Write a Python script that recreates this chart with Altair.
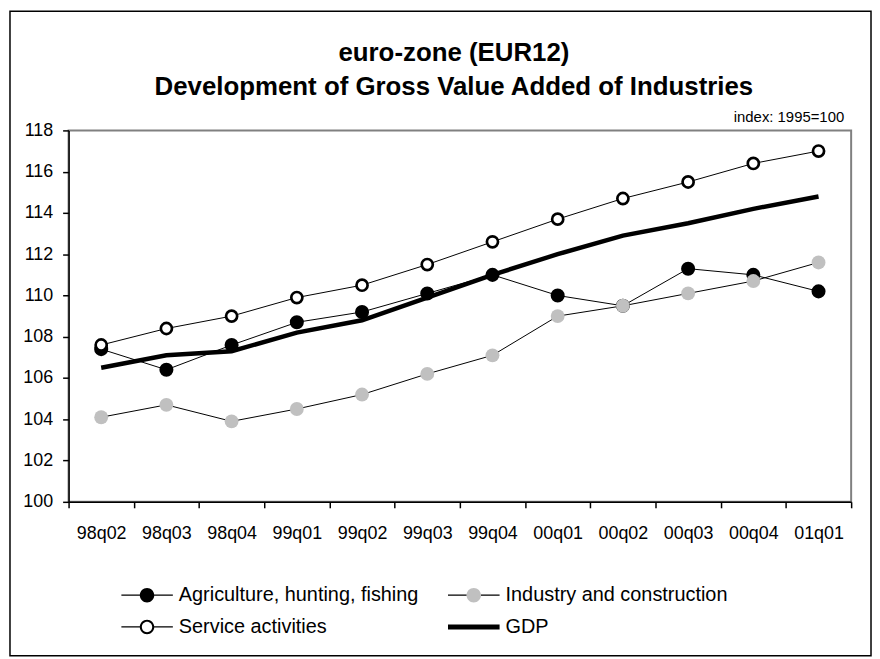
import altair as alt
import pandas as pd

FONT = "Liberation Sans, Arial, Helvetica, sans-serif"

quarters = ["98q02", "98q03", "98q04", "99q01", "99q02", "99q03",
            "99q04", "00q01", "00q02", "00q03", "00q04", "01q01"]
agriculture = [107.4, 106.4, 107.6, 108.7, 109.2, 110.1, 111.0, 110.0, 109.5, 111.3, 111.0, 110.2]
industry = [104.1, 104.7, 103.9, 104.5, 105.2, 106.2, 107.1, 109.0, 109.5, 110.1, 110.7, 111.6]
services = [107.6, 108.4, 109.0, 109.9, 110.5, 111.5, 112.6, 113.7, 114.7, 115.5, 116.4, 117.0]
gdp = [106.5, 107.1, 107.3, 108.2, 108.8, 109.9, 111.0, 112.0, 112.9, 113.5, 114.2, 114.8]
series_names = ["Agriculture, hunting, fishing", "Industry and construction",
                "Service activities", "GDP"]
y_ticks = [100, 102, 104, 106, 108, 110, 112, 114, 116, 118]
title_line1 = "euro-zone (EUR12)"
title_line2 = "Development of Gross Value Added of Industries"
note_text = "index: 1995=100"

rows = []
for name, vals in zip(series_names, [agriculture, industry, services, gdp]):
    for q, v in zip(quarters, vals):
        rows.append({"quarter": q, "series": name, "value": v})
df = pd.DataFrame(rows)

x_enc = alt.X("quarter:N",
              scale=alt.Scale(type="band", domain=quarters, paddingInner=0, paddingOuter=0),
              axis=alt.Axis(title=None, labelAngle=0, tickBand="extent", labelFontSize=18,
                            labelFont=FONT, labelColor="black", labelPadding=17,
                            tickSize=6, tickColor="black", tickWidth=1.5,
                            domainColor="black", domainWidth=1.5, grid=False))
y_enc = alt.Y("value:Q",
              scale=alt.Scale(domain=[100, 118], nice=False, zero=False),
              axis=alt.Axis(title=None, values=y_ticks, labelFontSize=18, labelFont=FONT,
                            labelColor="black", labelPadding=10, tickSize=6,
                            tickColor="black", tickWidth=1.5, domainColor="black",
                            domainWidth=1.5, grid=False))

base = alt.Chart(df).encode(x=x_enc, y=y_enc)

thin_lines = base.mark_line(color="black", strokeWidth=1).encode(
    detail="series:N"
).transform_filter(alt.FieldOneOfPredicate(field="series", oneOf=series_names[:3]))

gdp_line = base.mark_line(color="black", strokeWidth=4.5).transform_filter(
    alt.datum.series == "GDP")

agri_pts = base.mark_point(shape="circle", filled=True, fill="black", stroke="black",
                           strokeWidth=0, size=200, opacity=1).transform_filter(
    alt.datum.series == series_names[0])
ind_pts = base.mark_point(shape="circle", filled=True, fill="#c0c0c0", stroke="#c0c0c0",
                          strokeWidth=0, size=195, opacity=1).transform_filter(
    alt.datum.series == series_names[1])
svc_pts = base.mark_point(shape="circle", filled=True, fill="white", stroke="black",
                          strokeWidth=2.7, size=125, opacity=1).transform_filter(
    alt.datum.series == series_names[2])

# legend symbol paths (unit square, scaled by sqrt(size)/2)
SEG = "M-1,-0.025L-0.24,-0.025L-0.24,0.025L-1,0.025Z M0.24,-0.025L1,-0.025L1,0.025L0.24,0.025Z"
SEG_I = "M-1,-0.025L-0.28,-0.025L-0.28,0.025L-1,0.025Z M0.28,-0.025L1,-0.025L1,0.025L0.28,0.025Z"
DISC = "M0.28,0A0.28,0.28 0 1,1 -0.28,0A0.28,0.28 0 1,1 0.28,0Z"
RING = DISC + " M0.2,0A0.2,0.2 0 1,0 -0.2,0A0.2,0.2 0 1,0 0.2,0Z"
FLAT = "M-1,0L1,0L-1,0Z"
THICK = "M-1,-0.1L1,-0.1L1,0.1L-1,0.1Z"

# legend order (column-major layout): Agriculture, Service | Industry, GDP
legend_order = [series_names[0], series_names[2], series_names[1], series_names[3]]
paths_a = [SEG + " " + DISC, SEG + " " + RING, FLAT + " " + DISC, THICK]
fills_a = ["black", "black", "#c0c0c0", "black"]
paths_b = [FLAT, FLAT, SEG_I, FLAT]

leg_common = dict(orient="none", legendX=53, legendY=458, columns=2, columnPadding=29,
                  rowPadding=12, clipHeight=20, symbolSize=2704, symbolStrokeWidth=0,
                  labelFontSize=20, labelFont=FONT, labelColor="black", labelOffset=6,
                  title=None, padding=0, gridAlign="each", symbolOffset=0, labelLimit=500)

leg_a = alt.Legend(**leg_common)
legend_a = alt.Chart(alt.Data(values=[])).mark_point(
    filled=True, size=2704, opacity=1, strokeWidth=0).encode(
    shape=alt.Shape("series:N", scale=alt.Scale(domain=legend_order, range=paths_a), legend=leg_a),
    fill=alt.Fill("series:N", scale=alt.Scale(domain=legend_order, range=fills_a), legend=leg_a),
)

leg_b = alt.Legend(labelOpacity=0, **leg_common)
legend_b = alt.Chart(alt.Data(values=[])).mark_point(
    filled=True, size=2704, opacity=1, strokeWidth=0).encode(
    shape=alt.Shape("series_b:N", scale=alt.Scale(domain=legend_order, range=paths_b), legend=leg_b),
    fill=alt.Fill("series_b:N", scale=alt.Scale(domain=legend_order,
                                                range=["black", "black", "black", "black"]),
                  legend=leg_b),
)

border = alt.Chart(alt.Data(values=[{}])).mark_rect(
    fill="transparent", stroke="black", strokeWidth=1.5).encode(
    x=alt.value(-59), x2=alt.value(808), y=alt.value(-120), y2=alt.value(529))

note = alt.Chart(alt.Data(values=[{"t": note_text}])).mark_text(
    align="right", baseline="middle", fontSize=15, font=FONT, color="black").encode(
    text="t:N", x=alt.value(781), y=alt.value(-13))

title1 = alt.Chart(alt.Data(values=[{"t": title_line1}])).mark_text(
    align="center", baseline="alphabetic", fontSize=26, font=FONT, fontWeight="bold",
    color="black").encode(text="t:N", x=alt.value(388), y=alt.value(-70))
title2 = alt.Chart(alt.Data(values=[{"t": title_line2}])).mark_text(
    align="center", baseline="alphabetic", fontSize=26, font=FONT, fontWeight="bold",
    color="black").encode(text="t:N", x=alt.value(388), y=alt.value(-36))

chart = alt.layer(
    border, thin_lines, gdp_line, agri_pts, ind_pts, svc_pts, note, title1, title2,
    legend_a, legend_b
).resolve_scale(
    shape="independent", fill="independent"
).resolve_legend(
    shape="independent", fill="independent"
).properties(
    width=788, height=374,
    padding={"left": 1, "top": 0, "right": 0, "bottom": 0},
).configure(
    background="white"
).configure_view(
    stroke="#808080", strokeWidth=2
)

chart.save("out.html", embed_options={"renderer": "svg", "actions": False})
